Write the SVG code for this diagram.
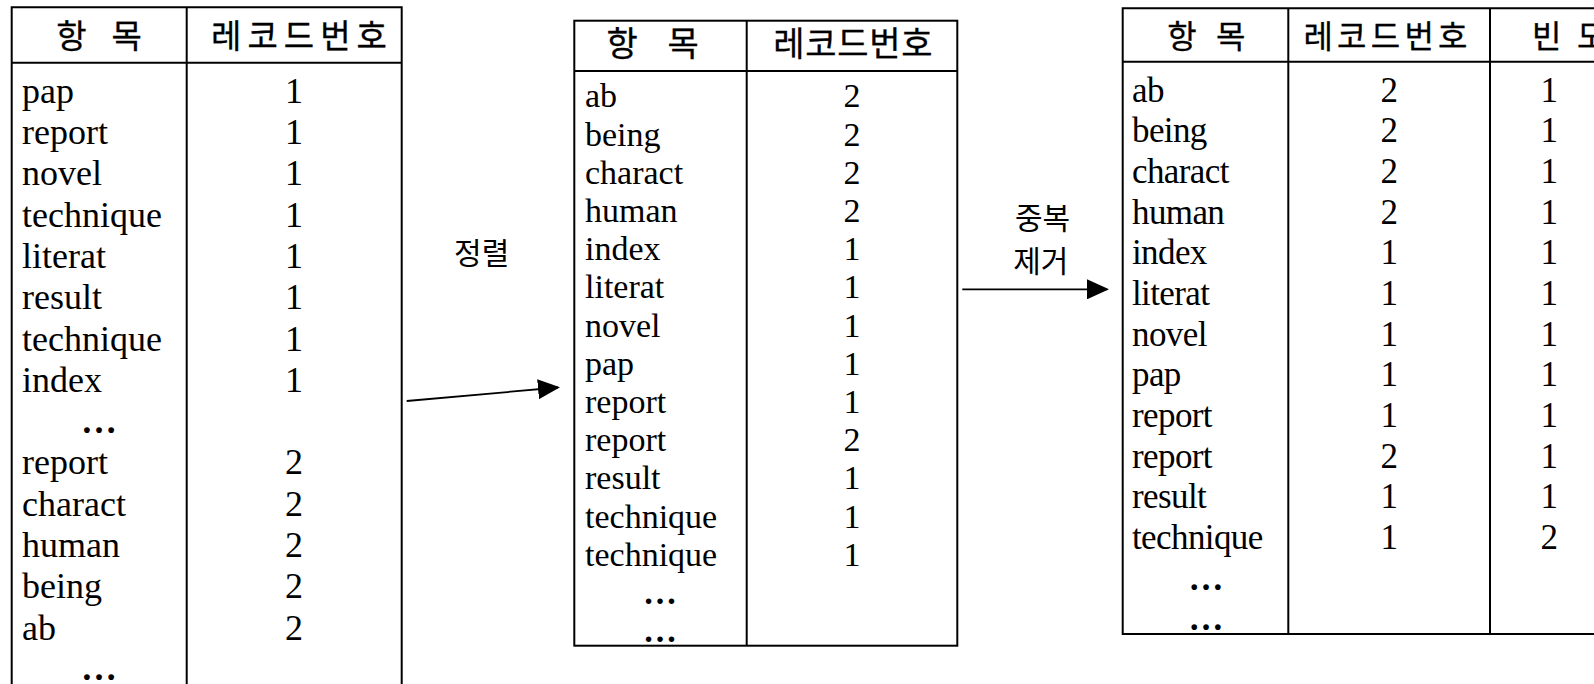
<svg xmlns="http://www.w3.org/2000/svg" width="1594" height="684" viewBox="0 0 1594 684">
<style>
.ln{stroke:#000;stroke-width:2;fill:none}
.lat{font-family:"Liberation Serif","Times New Roman",serif;fill:#000}
.kr{font-family:"Noto Sans CJK KR","Noto Sans",sans-serif;fill:#000}
.hd{stroke:#000;stroke-width:0.3}
.c{text-anchor:middle}
.t1{font-size:36px}
.t2{font-size:34px}
.t3{font-size:35px;letter-spacing:-0.6px}
.el{font-weight:bold;letter-spacing:0}
.arr{stroke:#000;stroke-width:1.8;fill:none;marker-end:url(#ah)}
</style>
<defs>
<marker id="ah" markerUnits="userSpaceOnUse" markerWidth="22" markerHeight="20" refX="20" refY="10" orient="auto">
<path d="M0,0 L22,10 L0,20 Z" fill="#000"/>
</marker>
</defs>
<rect width="1594" height="684" fill="#fff"/>

<g id="table-input">
<path class="ln" d="M11.7,7.3 H401.7 M11.7,6.3 V690 M186.7,7.3 V690 M401.7,6.3 V690 M11.7,62.7 H401.7"/>
<text class="kr hd c" x="102" y="47.5" font-size="33" letter-spacing="6" word-spacing="5.5">항 목</text>
<text class="kr hd c" x="302" y="47.5" font-size="33" letter-spacing="6">레코드번호</text>
<g class="lat t1">
<text x="22" y="102.7">pap</text>
<text x="22" y="144">report</text>
<text x="22" y="185.3">novel</text>
<text x="22" y="226.6">technique</text>
<text x="22" y="267.9">literat</text>
<text x="22" y="309.2">result</text>
<text x="22" y="350.5">technique</text>
<text x="22" y="391.8">index</text>
<text class="c el" x="99" y="433.1">…</text>
<text x="22" y="474.4">report</text>
<text x="22" y="515.7">charact</text>
<text x="22" y="557">human</text>
<text x="22" y="598.3">being</text>
<text x="22" y="639.6">ab</text>
<text class="c el" x="99" y="680">…</text>
</g>
<g class="lat t1 c">
<text x="294" y="102.7">1</text>
<text x="294" y="144">1</text>
<text x="294" y="185.3">1</text>
<text x="294" y="226.6">1</text>
<text x="294" y="267.9">1</text>
<text x="294" y="309.2">1</text>
<text x="294" y="350.5">1</text>
<text x="294" y="391.8">1</text>
<text x="294" y="474.4">2</text>
<text x="294" y="515.7">2</text>
<text x="294" y="557">2</text>
<text x="294" y="598.3">2</text>
<text x="294" y="639.6">2</text>
</g>
</g>

<g id="table-sorted">
<rect class="ln" x="574.3" y="20.7" width="383" height="625"/>
<path class="ln" d="M574.3,71 H957.3 M746.7,20.7 V645.7"/>
<text class="kr hd c" x="653" y="55.6" font-size="34" letter-spacing="0.7" word-spacing="20.6">항 목</text>
<text class="kr hd c" x="853.2" y="55.6" font-size="34" letter-spacing="0.7">레코드번호</text>
<g class="lat t2">
<text x="585" y="107.3">ab</text>
<text x="585" y="145.5">being</text>
<text x="585" y="183.7">charact</text>
<text x="585" y="221.9">human</text>
<text x="585" y="260.1">index</text>
<text x="585" y="298.3">literat</text>
<text x="585" y="336.5">novel</text>
<text x="585" y="374.7">pap</text>
<text x="585" y="412.9">report</text>
<text x="585" y="451.1">report</text>
<text x="585" y="489.3">result</text>
<text x="585" y="527.5">technique</text>
<text x="585" y="565.7">technique</text>
<text class="c el" x="660" y="603.9">…</text>
<text class="c el" x="660" y="642.1">…</text>
</g>
<g class="lat t2 c">
<text x="852" y="107.3">2</text>
<text x="852" y="145.5">2</text>
<text x="852" y="183.7">2</text>
<text x="852" y="221.9">2</text>
<text x="852" y="260.1">1</text>
<text x="852" y="298.3">1</text>
<text x="852" y="336.5">1</text>
<text x="852" y="374.7">1</text>
<text x="852" y="412.9">1</text>
<text x="852" y="451.1">2</text>
<text x="852" y="489.3">1</text>
<text x="852" y="527.5">1</text>
<text x="852" y="565.7">1</text>
</g>
</g>

<g id="table-dedup">
<path class="ln" d="M1122.7,8.3 H1600 M1122.7,61.7 H1600 M1122.7,634 H1600 M1122.7,7.3 V635 M1288.3,8.3 V634 M1490,8.3 V634"/>
<text class="kr hd c" x="1208.4" y="47.7" font-size="32" letter-spacing="4.2" word-spacing="3.7">항 목</text>
<text class="kr hd c" x="1387.6" y="47.7" font-size="32" letter-spacing="4.2">레코드번호</text>
<text class="kr hd" x="1532" y="47.7" font-size="32" letter-spacing="4.2">빈 도</text>
<g class="lat t3">
<text x="1132" y="101.7">ab</text>
<text x="1132" y="142.4">being</text>
<text x="1132" y="183">charact</text>
<text x="1132" y="223.7">human</text>
<text x="1132" y="264.3">index</text>
<text x="1132" y="305">literat</text>
<text x="1132" y="345.6">novel</text>
<text x="1132" y="386.3">pap</text>
<text x="1132" y="426.9">report</text>
<text x="1132" y="467.6">report</text>
<text x="1132" y="508.2">result</text>
<text x="1132" y="548.9">technique</text>
<text class="c el" x="1206" y="589.5">…</text>
<text class="c el" x="1206" y="630.2">…</text>
</g>
<g class="lat t3 c">
<text x="1389" y="101.7">2</text>
<text x="1389" y="142.4">2</text>
<text x="1389" y="183">2</text>
<text x="1389" y="223.7">2</text>
<text x="1389" y="264.3">1</text>
<text x="1389" y="305">1</text>
<text x="1389" y="345.6">1</text>
<text x="1389" y="386.3">1</text>
<text x="1389" y="426.9">1</text>
<text x="1389" y="467.6">2</text>
<text x="1389" y="508.2">1</text>
<text x="1389" y="548.9">1</text>
<text x="1549" y="101.7">1</text>
<text x="1549" y="142.4">1</text>
<text x="1549" y="183">1</text>
<text x="1549" y="223.7">1</text>
<text x="1549" y="264.3">1</text>
<text x="1549" y="305">1</text>
<text x="1549" y="345.6">1</text>
<text x="1549" y="386.3">1</text>
<text x="1549" y="426.9">1</text>
<text x="1549" y="467.6">1</text>
<text x="1549" y="508.2">1</text>
<text x="1549" y="548.9">2</text>
</g>
</g>

<g id="connectors">
<line class="arr" x1="406.7" y1="401" x2="558" y2="387.5"/>
<text class="kr c" x="481.7" y="263.6" font-size="30">정렬</text>
<line class="arr" x1="962.3" y1="289.3" x2="1107" y2="289.3"/>
<text class="kr c" x="1042.5" y="228.6" font-size="30">중복</text>
<text class="kr c" x="1040.8" y="271.9" font-size="30">제거</text>
</g>
</svg>
